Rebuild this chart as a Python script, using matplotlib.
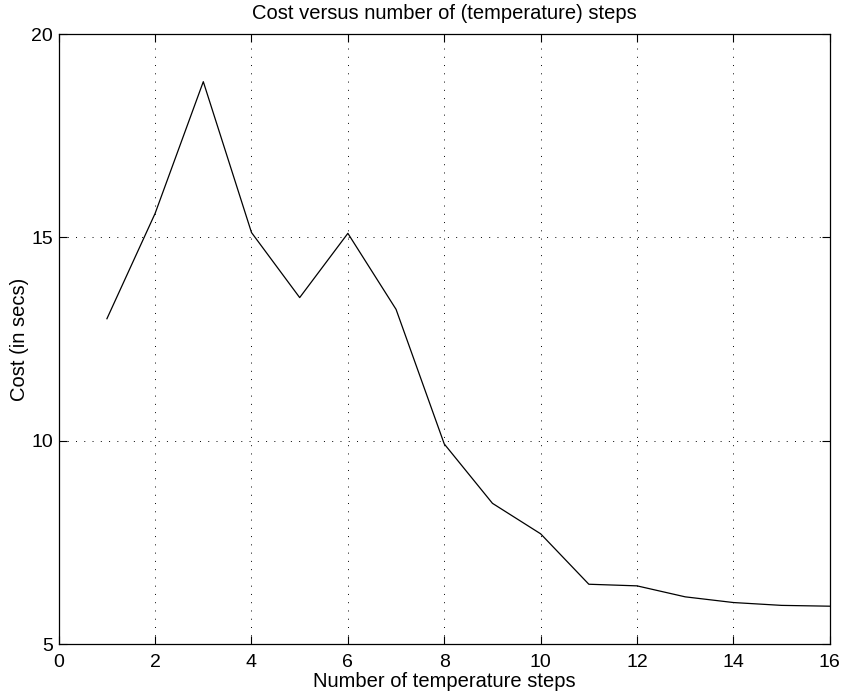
import matplotlib.pyplot as plt
import numpy as np

plt.rcParams['font.family'] = ['Liberation Sans', 'DejaVu Sans']

# Kosten je Anzahl Temperaturschritte
steps = [1, 2, 3, 4, 5, 6, 7, 8, 9, 10, 11, 12, 13, 14, 15, 16]
cost = [13.0, 15.59, 18.83, 15.12, 13.52, 15.10, 13.23, 9.92,
        8.46, 7.71, 6.47, 6.43, 6.16, 6.02, 5.95, 5.93]

xticks = [0, 2, 4, 6, 8, 10, 12, 14, 16]
yticks = [5, 10, 15, 20]

fig = plt.figure(figsize=(8.45, 6.96), dpi=100)
ax = fig.add_axes([0.0695, 0.0747, 0.9125, 0.8763])

ax.plot(steps, cost, color='black', linewidth=0.9)

ax.set_xlim(0, 16)
ax.set_ylim(5, 20)
ax.set_xticks(xticks)
ax.set_yticks(yticks)
ax.tick_params(direction='in', top=True, right=True, length=6,
               width=0.8, labelsize=14)
ax.tick_params(axis='x', pad=7)
ax.tick_params(axis='y', pad=4)
ax.grid(True, color='black', linestyle=(0, (1, 7.5)), linewidth=0.7)
for s in ax.spines.values():
    s.set_linewidth(0.9)

ax.set_title('Cost versus number of (temperature) steps', fontsize=14.5, pad=11)
ax.set_xlabel('Number of temperature steps', fontsize=14.5, labelpad=1)
ax.set_ylabel('Cost (in secs)', fontsize=14.5, labelpad=2)

plt.savefig('out.png', dpi=100)
